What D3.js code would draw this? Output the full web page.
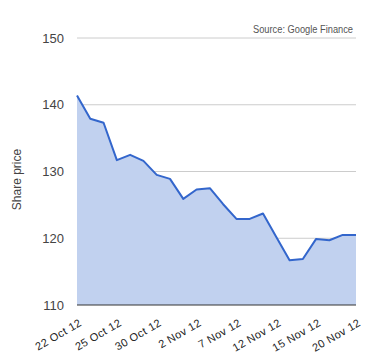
<!DOCTYPE html>
<html>
<head>
<meta charset="utf-8">
<script src="https://cdn.jsdelivr.net/npm/d3@7"></script>
<style>
  body { margin: 0; background: #fff; }
  text { font-family: "Liberation Sans", Arial, sans-serif; }
</style>
</head>
<body>
<svg id="chart" width="380" height="360"></svg>
<script>
// trading days shown on the chart
var dates = ["22 Oct 12", "23 Oct 12", "24 Oct 12", "25 Oct 12", "26 Oct 12", "29 Oct 12",
    "30 Oct 12", "31 Oct 12", "1 Nov 12", "2 Nov 12", "5 Nov 12", "6 Nov 12", "7 Nov 12",
    "8 Nov 12", "9 Nov 12", "12 Nov 12", "13 Nov 12", "14 Nov 12", "15 Nov 12",
    "16 Nov 12", "19 Nov 12", "20 Nov 12"];
var prices = [141.4, 137.9, 137.3, 131.7, 132.5, 131.6, 129.5, 128.9, 125.9, 127.3, 127.5,
    125.1, 122.9, 122.9, 123.7, 120.2, 116.7, 116.9, 119.9, 119.7, 120.5, 120.5];
var yTicks = [110, 120, 130, 140, 150];
var xLabels = ["22 Oct 12", "25 Oct 12", "30 Oct 12", "2 Nov 12", "7 Nov 12", "12 Nov 12", "15 Nov 12", "20 Nov 12"];

var svg = d3.select("#chart");
var m = {left: 77, right: 24, top: 38, bottom: 55};
var w = 380 - m.left - m.right, h = 360 - m.top - m.bottom;

var x = d3.scalePoint().domain(dates).range([0, w]);
var y = d3.scaleLinear().domain([110, 150]).range([h, 0]);

var g = svg.append("g").attr("transform", "translate(" + m.left + "," + m.top + ")");

// gridlines
g.selectAll("line.grid").data(yTicks.slice(1)).enter().append("line")
    .attr("class", "grid")
    .attr("x1", 0).attr("x2", w)
    .attr("y1", d => y(d)).attr("y2", d => y(d))
    .attr("stroke", "#cccccc").attr("stroke-width", 1);

var data = dates.map((d, i) => ({date: d, price: prices[i]}));

g.append("path").datum(data)
    .attr("fill", "#c1d1ef")
    .attr("d", d3.area().x(d => x(d.date)).y0(h).y1(d => y(d.price)));

g.append("path").datum(data)
    .attr("fill", "none")
    .attr("stroke", "#3366cc")
    .attr("stroke-width", 2)
    .attr("stroke-linejoin", "round")
    .attr("d", d3.line().x(d => x(d.date)).y(d => y(d.price)));

// baseline
g.append("line").attr("x1", 0).attr("x2", w).attr("y1", h).attr("y2", h)
    .attr("stroke", "#333333").attr("stroke-width", 1);

// y labels
var yAxis = d3.axisLeft(y).tickValues(yTicks).tickSize(0).tickPadding(13);
var ya = g.append("g").call(yAxis);
ya.select(".domain").remove();
ya.selectAll("text").attr("font-size", 13).attr("fill", "#444444")
    .style("font-family", "Liberation Sans, Arial, sans-serif");

// x labels
var xAxis = d3.axisBottom(x).tickValues(xLabels).tickSize(0).tickPadding(0);
var xa = g.append("g").attr("transform", "translate(0," + h + ")").call(xAxis);
xa.select(".domain").remove();
xa.selectAll("text")
    .attr("font-size", 11).attr("fill", "#222222")
    .style("font-family", "Liberation Sans, Arial, sans-serif")
    .style("letter-spacing", "0.4px")
    .attr("text-anchor", "end")
    .attr("dy", 0).attr("y", 0)
    .attr("transform", "translate(5,20) rotate(-30)");

// axis title
svg.append("text")
    .attr("transform", "translate(21," + (m.top + h / 2 + 8) + ") rotate(-90)")
    .attr("text-anchor", "middle")
    .attr("font-size", 12).attr("fill", "#444444")
    .text("Share price");

svg.append("text")
    .attr("x", 353).attr("y", 33)
    .attr("text-anchor", "end")
    .attr("font-size", 10).attr("fill", "#555555")
    .attr("textLength", 100).attr("lengthAdjust", "spacingAndGlyphs")
    .text("Source: Google Finance");
</script>
</body>
</html>
